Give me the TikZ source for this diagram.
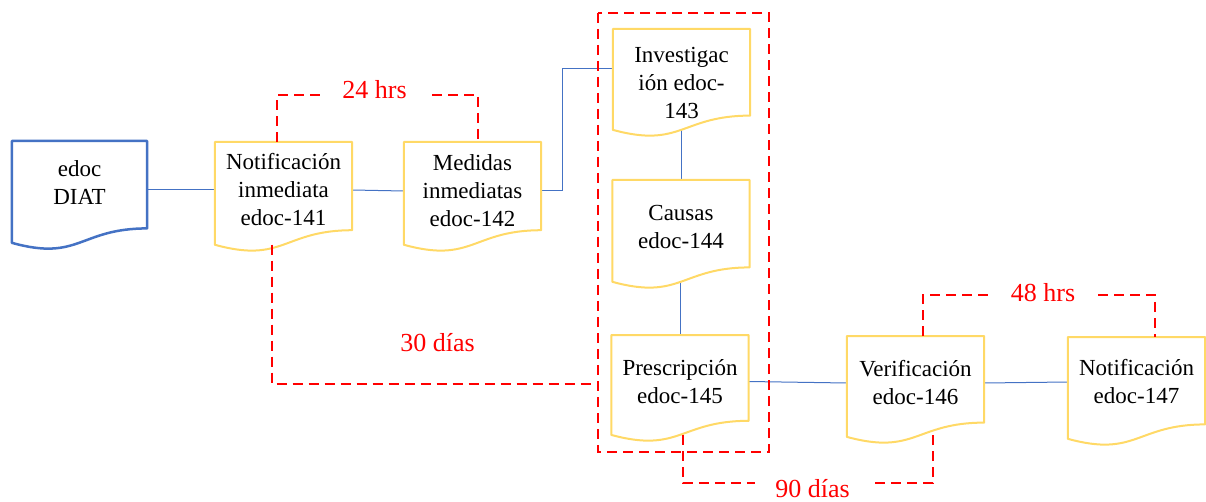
\documentclass[tikz,border=0pt]{standalone}
\usepackage{fontspec}
\setmainfont{Liberation Serif}
\newfontfamily\tnrfont{Liberation Serif}
\usetikzlibrary{calc}
\pgfdeclarelayer{bgA}
\pgfdeclarelayer{bgB}
\pgfsetlayers{bgA,bgB,main}
\definecolor{docyellow}{HTML}{FFD966}
\definecolor{docblue}{HTML}{4472C4}
\definecolor{linkblue}{HTML}{4472C4}
\definecolor{redline}{HTML}{FF0000}
\tikzset{
  doctext/.style={inner sep=0pt, minimum width=137pt, align=center,
    font=\tnrfont\fontsize{23}{28}\selectfont, text=black},
  yellowdoc/.style={draw=docyellow, line width=2pt, fill=white, line join=round},
  bluedoc/.style={draw=docblue, line width=2.5pt, fill=white, line join=round},
  link/.style={draw=linkblue, line width=1pt},
  reddash/.style={draw=redline, line width=2.4pt, dash pattern=on 10pt off 6pt},
  redtext/.style={text=redline, font=\tnrfont\fontsize{26}{30}\selectfont, inner sep=1pt}
}
\newcommand\docshape[4]{%
  \begin{pgfonlayer}{bgB}
  \draw[#1] ($(#2.west)+(0,#3)$) -- ($(#2.east)+(0,#3)$)
    -- ($(#2.east)+(0,#3-0.802*#4)$)
    .. controls ($(#2.center)+(0,#3-0.802*#4)$) and ($(#2.center)+(0,#3-1.1075*#4)$)
    .. ($(#2.west)+(0,#3-0.934*#4)$) -- cycle;
  \end{pgfonlayer}
  \coordinate (#2-t) at ($(#2.center)+(0,#3)$);
  \coordinate (#2-b) at ($(#2.center)+(0,#3-0.933*#4)$);
}
\begin{document}
\begin{tikzpicture}[x=1pt,y=1pt]
\useasboundingbox (0,0) rectangle (1206,-502);
% document nodes (text)
\node[doctext, minimum width=135pt] (diat) at (79.5,-183) {edoc\\DIAT};
\node[doctext] (n141) at (283.5,-190) {Notificación\\inmediata\\edoc-141};
\node[doctext] (n142) at (472.5,-191) {Medidas\\inmediatas\\edoc-142};
\node[doctext] (n143) at (681.5,-83) {Investigac\\ión edoc-\\143};
\node[doctext] (n144) at (681,-227) {Causas\\edoc-144};
\node[doctext] (n145) at (680,-381.5) {Prescripción\\edoc-145};
\node[doctext] (n146) at (915.5,-383) {Verificación\\edoc-146};
\node[doctext] (n147) at (1136.5,-382) {Notificación\\edoc-147};
% outlines
\docshape{bluedoc}{diat}{42}{109}
\docshape{yellowdoc}{n141}{48}{110}
\docshape{yellowdoc}{n142}{49}{110}
\docshape{yellowdoc}{n143}{54}{108}
\docshape{yellowdoc}{n144}{47}{109}
\docshape{yellowdoc}{n145}{46.5}{107}
\docshape{yellowdoc}{n146}{47}{108}
\docshape{yellowdoc}{n147}{45}{109}
% connectors
\begin{pgfonlayer}{bgA}
\draw[link] (n141.west) -- (n141.west -| diat.east);
\draw[link] (n141.east) -- (n142.west);
\draw[link] (n142.east) -- ++(21,0) |- ($(n143.west)+(0,14)$);
\draw[link] (n144-t) -- (n144-t |- n143-b);
\draw[link] (n145-t) -- (n145-t |- n144-b);
\draw[link] (n145.east) -- (n146.west);
\draw[link] (n146.east) -- (n147.west);
\end{pgfonlayer}
% red labels
\node[redtext] (t24) at (374.5,-90) {24 hrs};
\node[redtext] (t30) at (437.5,-343) {30 días};
\node[redtext] (t90) at (812.5,-488.5) {90 días};
\node[redtext] (t48) at (1043,-293) {48 hrs};
% red dashed paths
\coordinate (a24l) at (322,-95);
\coordinate (a24r) at (432,-95);
\coordinate (a30) at (592,-384);
\coordinate (a90l) at (755,-483);
\coordinate (a90r) at (875,-483);
\coordinate (a48l) at (990,-295);
\coordinate (a48r) at (1098,-295);
\draw[reddash] ($(n141-t)+(-6.5,0)$) |- (a24l);
\draw[reddash] (a24r) -| ($(n142-t)+(5.5,0)$);
\draw[reddash] ($(n141-b)+(-11.5,0)$) |- (a30);
\draw[reddash] ($(n145-b)+(3,0)$) |- (a90l);
\draw[reddash] (a90r) -| ($(n146-b)+(17.5,4)$);
\draw[reddash] ($(n146-t)+(7.5,0)$) |- (a48l);
\draw[reddash] (a48r) -| ($(n147-t)+(18.5,0)$);
\draw[reddash] (598,-13) rectangle (769,-452);
\end{tikzpicture}
\end{document}
